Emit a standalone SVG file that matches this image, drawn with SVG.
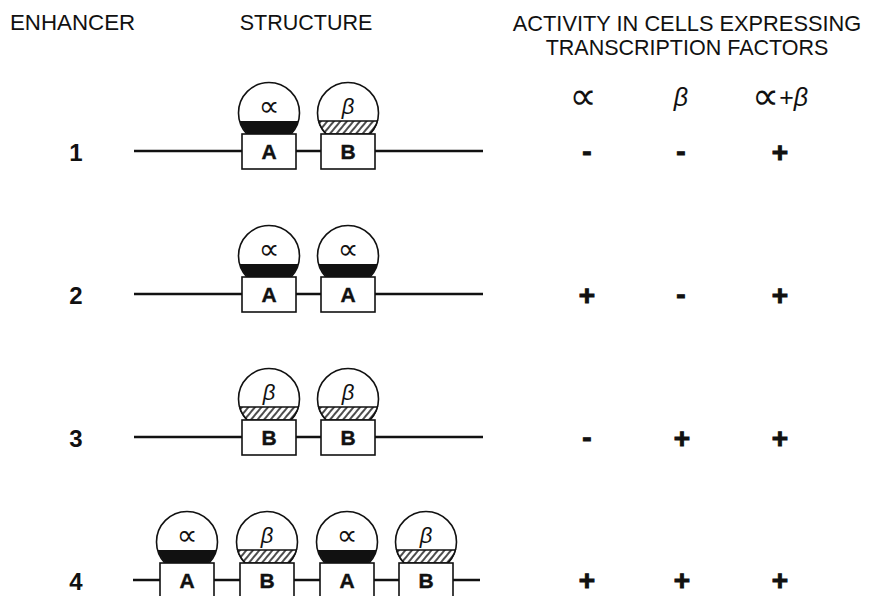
<svg xmlns="http://www.w3.org/2000/svg" width="876" height="596" viewBox="0 0 876 596">
<style>
.hdr{font-family:"Liberation Sans",Arial,sans-serif;font-size:21.5px;fill:#111}
.num{font-family:"Liberation Sans",Arial,sans-serif;font-size:24px;font-weight:bold;fill:#111;text-anchor:middle}
.box{fill:#fff;stroke:#111;stroke-width:1.6}
.cap{fill:#fff;stroke:#111;stroke-width:1.6}
.lbl{font-family:"Liberation Sans",Arial,sans-serif;font-size:21px;font-weight:bold;fill:#111;stroke:#111;stroke-width:0.4;text-anchor:middle}
.alpha{font-family:"DejaVu Sans",sans-serif;font-size:29px;fill:#111;text-anchor:middle}
.beta{font-family:"Liberation Sans",Arial,sans-serif;font-size:22px;font-style:italic;fill:#111;text-anchor:middle}
.sign{font-family:"Liberation Sans",Arial,sans-serif;font-size:28px;font-weight:bold;fill:#111;stroke:#111;stroke-width:1;text-anchor:middle}
.dna{stroke:#111;stroke-width:2.6;fill:none}
</style>
<defs>
<pattern id="hatch" patternUnits="userSpaceOnUse" width="5" height="5" patternTransform="rotate(40)">
<rect width="5" height="5" fill="#fff"/>
<line x1="1" y1="0" x2="1" y2="5" stroke="#111" stroke-width="1.5"/>
</pattern>
<g id="alphaCap">
<circle class="cap" cx="0" cy="-21" r="30.5"/>
<path d="M-29.4,-13 L29.4,-13 A30.5,30.5 0 0 1 21.5,0 L-21.5,0 A30.5,30.5 0 0 1 -29.4,-13 Z" fill="#111"/>
</g>
<g id="betaCap">
<circle class="cap" cx="0" cy="-21" r="30.5"/>
<path d="M-29.4,-13 L29.4,-13 A30.5,30.5 0 0 1 21.5,0 L-21.5,0 A30.5,30.5 0 0 1 -29.4,-13 Z" fill="url(#hatch)" stroke="#111" stroke-width="1.4"/>
</g>
<rect id="site" class="box" x="-27" y="0" width="54" height="35"/>
</defs>
<g id="headers">
<text class="hdr" x="10" y="30" style="font-size:22.3px">ENHANCER</text>
<text class="hdr" x="306" y="30" text-anchor="middle">STRUCTURE</text>
<text class="hdr" x="687" y="31" text-anchor="middle" style="font-size:21.8px">ACTIVITY IN CELLS EXPRESSING</text>
<text class="hdr" x="687" y="55" text-anchor="middle">TRANSCRIPTION FACTORS</text>
<text x="583" y="109" style="font-family:'DejaVu Sans',sans-serif;font-size:38px;fill:#111" text-anchor="middle">∝</text>
<text x="681" y="106" style="font-family:'Liberation Sans',Arial,sans-serif;font-size:25px;font-style:italic;fill:#111" text-anchor="middle">β</text>
<text x="780" y="106" style="font-family:'Liberation Sans',Arial,sans-serif;font-size:25px;fill:#111" text-anchor="middle"><tspan style="font-family:'DejaVu Sans',sans-serif;font-size:38px" dy="3">∝</tspan><tspan dy="-3">+</tspan><tspan font-style="italic">β</tspan></text>
</g>
<g id="connectors">
<line class="dna" x1="134" y1="151" x2="483" y2="151"/>
<line class="dna" x1="134" y1="294" x2="483" y2="294"/>
<line class="dna" x1="134" y1="437" x2="483" y2="437"/>
<line class="dna" x1="133" y1="580" x2="480" y2="580"/>
</g>
<g id="row1">
<text class="num" x="76" y="161">1</text>
<g id="r1-A" transform="translate(269,134)"><use href="#alphaCap"/><use href="#site"/><text class="alpha" y="-18">∝</text><text class="lbl" y="25">A</text></g>
<g id="r1-B" transform="translate(348,134)"><use href="#betaCap"/><use href="#site"/><text class="beta" y="-20">β</text><text class="lbl" y="25">B</text></g>
<text class="sign" x="587" y="161">-</text><text class="sign" x="681" y="161">-</text><text class="sign" x="780" y="162">+</text>
</g>
<g id="row2">
<text class="num" x="76" y="304">2</text>
<g id="r2-A1" transform="translate(269,277)"><use href="#alphaCap"/><use href="#site"/><text class="alpha" y="-18">∝</text><text class="lbl" y="25">A</text></g>
<g id="r2-A2" transform="translate(348,277)"><use href="#alphaCap"/><use href="#site"/><text class="alpha" y="-18">∝</text><text class="lbl" y="25">A</text></g>
<text class="sign" x="587" y="305">+</text><text class="sign" x="681" y="304">-</text><text class="sign" x="780" y="305">+</text>
</g>
<g id="row3">
<text class="num" x="76" y="447">3</text>
<g id="r3-B1" transform="translate(269,420)"><use href="#betaCap"/><use href="#site"/><text class="beta" y="-20">β</text><text class="lbl" y="25">B</text></g>
<g id="r3-B2" transform="translate(348,420)"><use href="#betaCap"/><use href="#site"/><text class="beta" y="-20">β</text><text class="lbl" y="25">B</text></g>
<text class="sign" x="587" y="447">-</text><text class="sign" x="682" y="448">+</text><text class="sign" x="780" y="448">+</text>
</g>
<g id="row4">
<text class="num" x="76" y="590">4</text>
<g id="r4-A1" transform="translate(187,563)"><use href="#alphaCap"/><use href="#site"/><text class="alpha" y="-18">∝</text><text class="lbl" y="25">A</text></g>
<g id="r4-B1" transform="translate(267,563)"><use href="#betaCap"/><use href="#site"/><text class="beta" y="-20">β</text><text class="lbl" y="25">B</text></g>
<g id="r4-A2" transform="translate(347,563)"><use href="#alphaCap"/><use href="#site"/><text class="alpha" y="-18">∝</text><text class="lbl" y="25">A</text></g>
<g id="r4-B2" transform="translate(426,563)"><use href="#betaCap"/><use href="#site"/><text class="beta" y="-20">β</text><text class="lbl" y="25">B</text></g>
<text class="sign" x="587" y="590">+</text><text class="sign" x="682" y="590">+</text><text class="sign" x="780" y="590">+</text>
</g>
</svg>
